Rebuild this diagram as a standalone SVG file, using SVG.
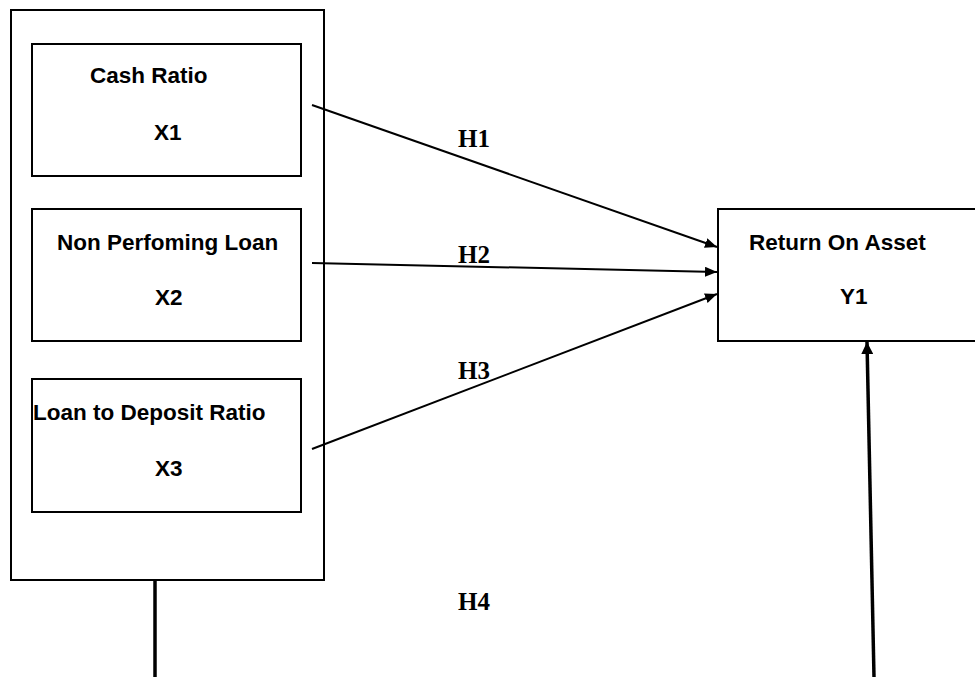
<svg xmlns="http://www.w3.org/2000/svg" width="975" height="677" viewBox="0 0 975 677">
<style>
.box{fill:#fff;stroke:#000;stroke-width:2}
.lbl{font-family:"Liberation Sans",Arial,sans-serif;font-weight:bold;font-size:22.5px;fill:#000}
.h{font-family:"Liberation Serif","Times New Roman",serif;font-weight:bold;font-size:25px;fill:#000}
.ln{stroke:#000;stroke-width:2;fill:none}
.thick{stroke:#000;stroke-width:3.5;fill:none}
</style>
<defs>
<marker id="ah" viewBox="0 0 12 10" refX="12" refY="5" markerWidth="12" markerHeight="10" markerUnits="userSpaceOnUse" orient="auto">
<path d="M0,0 L12,5 L0,10 Z" fill="#000"/>
</marker>
<marker id="ahb" viewBox="0 0 12 12" refX="12" refY="6" markerWidth="12" markerHeight="12" markerUnits="userSpaceOnUse" orient="auto">
<path d="M0,0 L12,6 L0,12 Z" fill="#000"/>
</marker>
</defs>
<g id="group-x">
<rect class="box" x="11" y="10" width="313" height="570"/>
</g>
<g id="node-x1">
<rect class="box" x="32" y="44" width="269" height="132"/>
<text class="lbl" x="90" y="83">Cash Ratio</text>
<text class="lbl" x="154" y="140">X1</text>
</g>
<g id="node-x2">
<rect class="box" x="32" y="209" width="269" height="132"/>
<text class="lbl" x="57" y="250">Non Perfoming Loan</text>
<text class="lbl" x="155" y="305">X2</text>
</g>
<g id="node-x3">
<rect class="box" x="32" y="379" width="269" height="133"/>
<text class="lbl" x="33" y="420">Loan to Deposit Ratio</text>
<text class="lbl" x="155" y="476">X3</text>
</g>
<g id="node-y1">
<rect class="box" x="718" y="209" width="270" height="132"/>
<text class="lbl" x="749" y="250">Return On Asset</text>
<text class="lbl" x="840" y="304">Y1</text>
</g>
<g id="connectors">
<line class="ln" x1="312" y1="105" x2="717" y2="247" marker-end="url(#ah)"/>
<line class="ln" x1="312" y1="263" x2="717" y2="272" marker-end="url(#ah)"/>
<line class="ln" x1="312" y1="449" x2="717" y2="294" marker-end="url(#ah)"/>
<line class="thick" x1="155" y1="580" x2="155" y2="677"/>
<line class="thick" x1="874" y1="677" x2="867" y2="342" marker-end="url(#ahb)"/>
</g>
<g id="labels">
<text class="h" x="458" y="147">H1</text>
<text class="h" x="458" y="263">H2</text>
<text class="h" x="458" y="379">H3</text>
<text class="h" x="458" y="610">H4</text>
</g>
</svg>
